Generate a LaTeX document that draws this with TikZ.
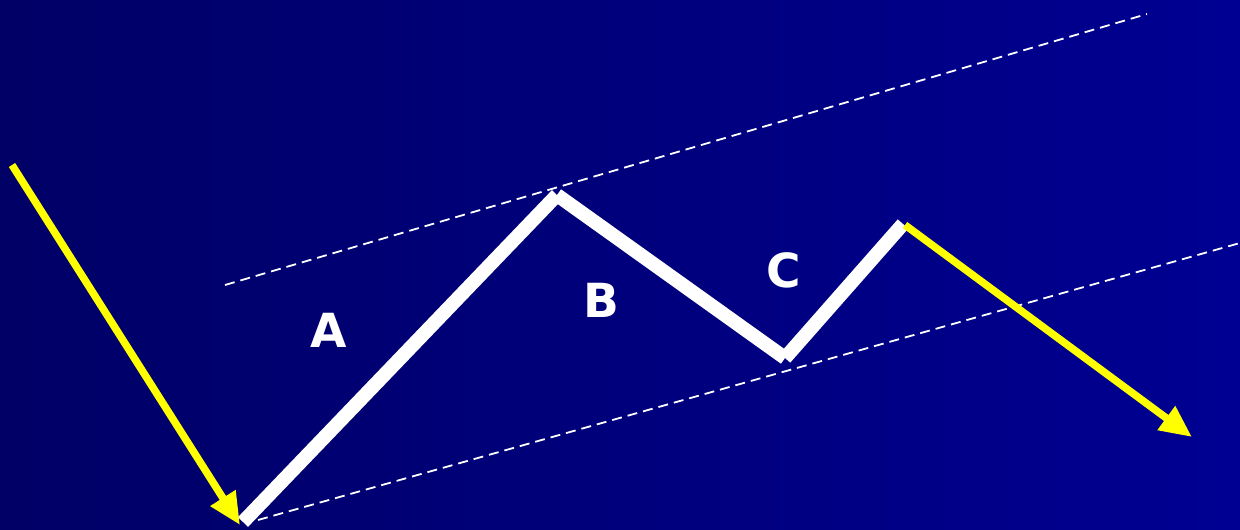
\documentclass[tikz,border=0pt]{standalone}
\usepackage{fontspec}
\setmainfont{DejaVu Sans}
\usetikzlibrary{arrows.meta}
\definecolor{bgleft}{HTML}{000066}
\definecolor{bgright}{HTML}{000092}
\definecolor{arrowyellow}{HTML}{FFFF00}
\tikzset{
  wave/.style={draw=white, line width=14pt, line cap=butt},
  trend/.style={draw=arrowyellow, line width=7.5pt, -{Triangle[length=32pt,width=28pt]}},
  channel/.style={draw=white, line width=1.8pt, dash pattern=on 10pt off 6pt},
  wavelabel/.style={text=white, font=\fontsize{47}{50}\selectfont\bfseries, inner sep=0pt}
}
\begin{document}
\begin{tikzpicture}[x=1pt,y=-1pt]
\shade[left color=bgleft,right color=bgright] (0,0) rectangle (1240,530);
\useasboundingbox (0,0) rectangle (1240,530);
\coordinate (s0) at (243,522);
\coordinate (pa) at (557,195);
\coordinate (pb) at (785,358);
\coordinate (pc) at (903,224);
\coordinate (y0) at (12,165);
\coordinate (y1) at (240,525);
\coordinate (y2) at (905,225);
\coordinate (y3) at (1192,437);
\coordinate (u0) at (225,285);
\coordinate (u1) at (1147,14);
\coordinate (l0) at (258,520);
\coordinate (l1) at (1240,243);
\draw[channel] (u0) -- (u1);
\draw[channel] (l0) -- (l1);
\draw[wave] (s0) -- (pa);
\draw[wave] (pa) -- (pb);
\draw[wave] (pb) -- (pc);
\draw[trend] (y0) -- (y1);
\draw[trend] (y2) -- (y3);
\node[wavelabel] (la) at (329,330) {A};
\node[wavelabel] (lb) at (601,300) {B};
\node[wavelabel] (lc) at (784,270) {C};
\end{tikzpicture}
\end{document}
